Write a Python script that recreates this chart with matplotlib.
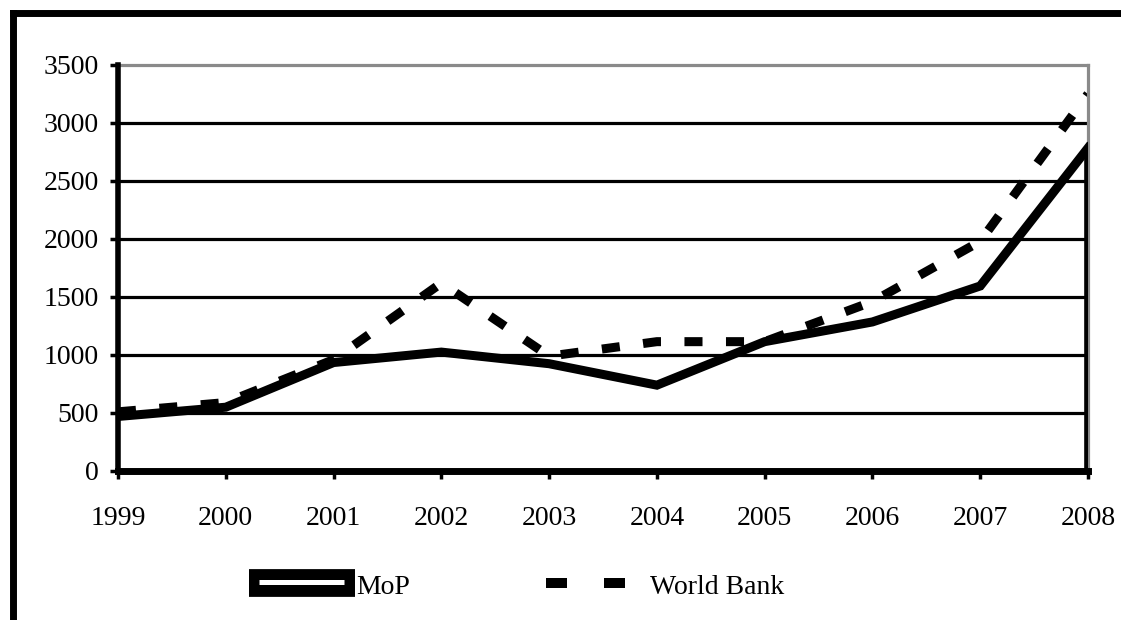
import matplotlib.pyplot as plt
from matplotlib.lines import Line2D

plt.rcParams['font.family'] = ['Liberation Serif', 'DejaVu Serif']

# data
years = [1999, 2000, 2001, 2002, 2003, 2004, 2005, 2006, 2007, 2008]
mop = [470, 550, 935, 1025, 925, 740, 1115, 1285, 1595, 2785]
world_bank = [510, 590, 960, 1620, 990, 1115, 1115, 1460, 1980, 3250]
y_ticks = [0, 500, 1000, 1500, 2000, 2500, 3000, 3500]

W, H = 1121, 620
fig = plt.figure(figsize=(W / 100, H / 100), dpi=100)
ax = fig.add_axes([118 / W, 1 - 471 / H, (1088 - 118) / W, (471 - 65) / H])

# horizontal grid lines
for v in y_ticks[1:-1]:
    ax.axhline(v, color='black', lw=2.3, zorder=1)

ax.plot(years, mop, color='black', lw=6.5, solid_joinstyle='miter', zorder=3)
ax.plot(years, world_bank, color='black', lw=6.5, dashes=(2.0, 2.6),
        dash_capstyle='butt', zorder=2)
# thick drop at the last year
ax.vlines(years[-1], 0, mop[-1], color='black', lw=5.5, zorder=3)

ax.set_xlim(years[0], years[-1])
ax.set_ylim(0, 3500)
ax.set_xticks(years)
ax.set_yticks(y_ticks)
ax.tick_params(axis='both', labelsize=20, colors='black', width=2.5, length=6,
               direction='out')
ax.tick_params(axis='x', pad=19)
ax.tick_params(axis='y', pad=8)

ax.spines['left'].set_linewidth(4)
ax.spines['bottom'].set_linewidth(5)
ax.spines['top'].set_color('#8a8a8a')
ax.spines['top'].set_linewidth(2.3)
ax.spines['right'].set_color('#8a8a8a')
ax.spines['right'].set_linewidth(2.3)
ax.spines['left'].set_zorder(4)
ax.spines['bottom'].set_zorder(4)


def fx(px):
    return px / W


def fy(py):
    return 1 - py / H


# outer frame (left and top only visible)
fig.add_artist(Line2D([fx(13), fx(13)], [fy(H + 5), fy(13)], color='black',
                      lw=5, solid_capstyle='projecting', transform=fig.transFigure))
fig.add_artist(Line2D([fx(13), fx(W + 5)], [fy(13), fy(13)], color='black',
                      lw=5, solid_capstyle='projecting', transform=fig.transFigure))

# legend drawn by hand
fig.add_artist(Line2D([fx(249), fx(355)], [fy(583), fy(583)], color='black',
                      lw=20, solid_capstyle='butt', transform=fig.transFigure))
fig.add_artist(Line2D([fx(259), fx(344)], [fy(582), fy(582)], color='white',
                      lw=3.6, solid_capstyle='butt', transform=fig.transFigure))
fig.text(fx(356), fy(588), 'MoP', fontsize=20, va='center', ha='left')

fig.add_artist(Line2D([fx(546), fx(627)], [fy(583), fy(583)], color='black',
                      lw=7.2, dashes=(2.1, 3.7), dash_capstyle='butt',
                      transform=fig.transFigure))
fig.text(fx(650), fy(588), 'World Bank', fontsize=20, va='center', ha='left')

fig.savefig('out.png', dpi=100)
